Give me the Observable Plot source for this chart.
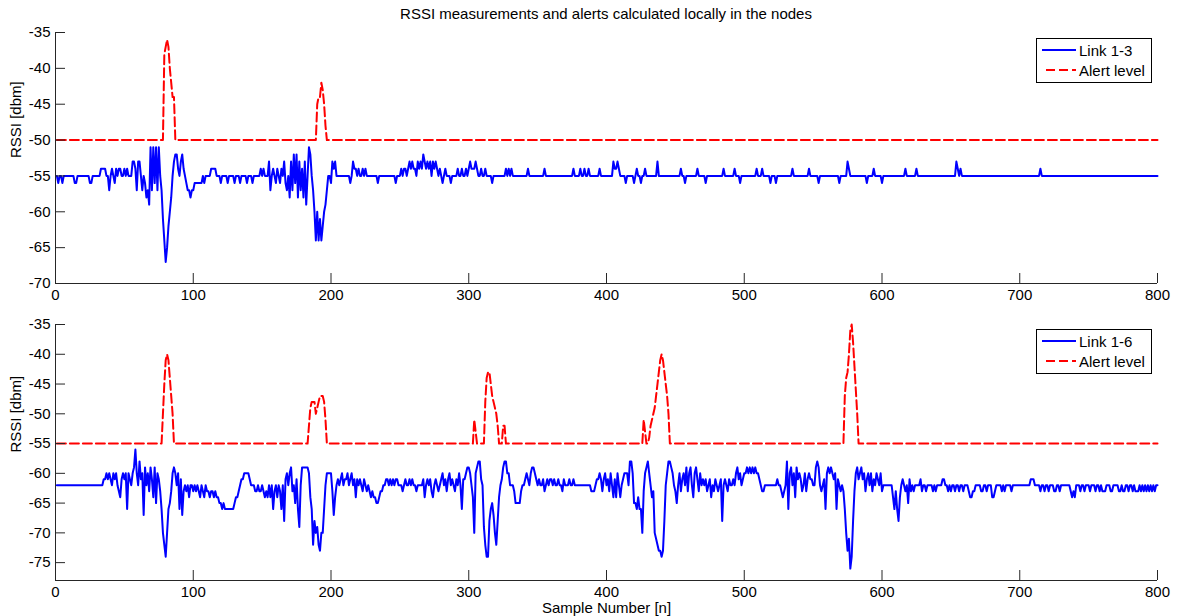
<!DOCTYPE html>
<html>
<head>
<meta charset="utf-8">
<script src="https://cdn.jsdelivr.net/npm/d3@7"></script>
<script src="https://cdn.jsdelivr.net/npm/@observablehq/plot@0.6"></script>
<style>
  body { margin: 0; background: #fff; }
  #fig { position: relative; width: 1179px; height: 616px; overflow: hidden; background: #fff;
         font-family: "Liberation Sans", Arial, sans-serif; color: #000; }
  .panel { position: absolute; left: 0; }
  #title { position: absolute; left: 55px; width: 1102px; top: 5px; text-align: center; font-size: 15px; line-height: 17px; }
  .legend { position: absolute; left: 1036px; width: 114px; height: 43px; border: 1px solid #000; background: #fff; font-size: 15px; }
  .legend .row { position: absolute; left: 5px; height: 18px; display: flex; align-items: center; white-space: nowrap; }
  .legend svg { margin-right: 3px; }
</style>
</head>
<body>
<div id="fig">
  <div id="title">RSSI measurements and alerts calculated locally in the nodes</div>
</div>
<script>
// ---- axis ticks ----
const sampleTicks = [0, 100, 200, 300, 400, 500, 600, 700, 800];
const rssiTicksTop = [-70, -65, -60, -55, -50, -45, -40, -35];
const rssiTicksBottom = [-75, -70, -65, -60, -55, -50, -45, -40, -35];

// ---- link 1-3: RSSI per sample (dBm), samples 1..800 ----
const link13Rssi = [
-55,-56,-55,-55,-56,-55,-55,-55,-55,-55,
-55,-55,-55,-56,-56,-55,-55,-55,-55,-55,
-55,-55,-55,-55,-56,-56,-55,-55,-55,-55,
-55,-55,-54,-54,-54,-54,-55,-55,-57,-55,
-54,-55,-56,-54,-55,-54,-54,-55,-55,-54,
-55,-54,-55,-55,-55,-53,-53,-54,-57,-53,
-53,-55,-57,-55,-56,-58,-57,-59,-51,-57,
-51,-56,-51,-57,-51,-55,-57,-61,-64,-67,
-65,-62,-60,-58,-55,-53,-52,-52,-54,-55,
-53,-52,-54,-55,-56,-57,-57,-58,-57,-57,
-56,-56,-56,-56,-56,-56,-55,-56,-55,-55,
-55,-55,-54,-54,-54,-54,-55,-55,-55,-56,
-55,-55,-55,-55,-56,-55,-55,-55,-55,-56,
-55,-55,-55,-56,-55,-55,-55,-55,-56,-55,
-55,-55,-56,-55,-55,-55,-55,-55,-54,-55,
-54,-55,-55,-55,-53,-57,-55,-54,-55,-56,
-54,-55,-56,-54,-55,-53,-56,-57,-55,-58,
-53,-57,-52,-56,-52,-58,-53,-57,-54,-58,
-53,-59,-55,-51,-52,-55,-57,-60,-64,-60,
-64,-61,-64,-62,-60,-59,-57,-55,-55,-56,
-53,-54,-53,-55,-55,-55,-55,-55,-55,-55,
-55,-55,-55,-56,-55,-53,-54,-54,-55,-54,
-55,-55,-54,-55,-54,-55,-55,-55,-55,-55,
-55,-55,-55,-56,-55,-55,-55,-55,-55,-55,
-55,-55,-55,-55,-55,-55,-56,-55,-55,-55,
-54,-55,-54,-54,-55,-54,-53,-54,-53,-54,
-54,-55,-53,-54,-53,-54,-52,-53,-54,-53,
-54,-53,-55,-53,-54,-53,-54,-55,-54,-55,
-56,-55,-54,-55,-55,-55,-56,-55,-55,-55,
-55,-54,-55,-55,-54,-55,-55,-54,-55,-54,
-53,-54,-54,-54,-53,-54,-55,-55,-54,-55,
-55,-54,-55,-55,-55,-55,-56,-55,-55,-55,
-55,-55,-55,-55,-55,-55,-54,-55,-54,-55,
-54,-55,-55,-55,-55,-55,-55,-55,-55,-55,
-55,-55,-54,-55,-55,-55,-55,-55,-55,-55,
-55,-55,-55,-55,-54,-55,-55,-55,-55,-55,
-55,-55,-55,-55,-55,-55,-55,-55,-55,-55,
-55,-55,-55,-55,-55,-54,-55,-55,-55,-55,
-54,-55,-55,-54,-55,-55,-54,-55,-55,-55,
-55,-55,-55,-55,-54,-55,-55,-55,-55,-55,
-55,-55,-55,-55,-53,-54,-54,-53,-54,-55,
-55,-55,-55,-56,-55,-55,-55,-55,-55,-56,
-55,-54,-55,-55,-56,-55,-55,-54,-55,-55,
-55,-55,-55,-55,-55,-55,-53,-55,-55,-55,
-55,-55,-55,-55,-55,-55,-55,-55,-55,-55,
-55,-55,-55,-54,-55,-55,-56,-55,-55,-55,
-55,-55,-55,-55,-55,-54,-55,-55,-55,-55,
-55,-56,-55,-55,-55,-55,-55,-55,-55,-55,
-55,-55,-55,-55,-54,-55,-55,-55,-55,-55,
-55,-55,-54,-55,-55,-55,-56,-55,-55,-55,
-55,-55,-55,-55,-55,-55,-55,-55,-54,-55,
-55,-55,-54,-55,-55,-55,-55,-55,-56,-55,
-55,-55,-56,-55,-55,-55,-55,-55,-55,-55,
-55,-55,-55,-55,-54,-55,-55,-55,-55,-55,
-55,-55,-55,-55,-55,-55,-54,-55,-55,-55,
-55,-55,-55,-56,-55,-55,-55,-55,-55,-55,
-55,-55,-55,-55,-55,-55,-55,-55,-56,-55,
-55,-55,-55,-55,-53,-54,-55,-55,-55,-55,
-55,-55,-55,-55,-55,-55,-55,-55,-56,-55,
-55,-55,-55,-54,-55,-55,-55,-55,-55,-56,
-55,-55,-55,-55,-55,-55,-55,-55,-55,-55,
-55,-55,-55,-55,-55,-55,-54,-55,-55,-55,
-55,-55,-55,-55,-54,-55,-55,-55,-55,-55,
-55,-55,-55,-55,-55,-55,-55,-55,-55,-55,
-55,-55,-55,-55,-55,-55,-55,-55,-55,-55,
-55,-55,-55,-53,-54,-55,-54,-55,-55,-55,
-55,-55,-55,-55,-55,-55,-55,-55,-55,-55,
-55,-55,-55,-55,-55,-55,-55,-55,-55,-55,
-55,-55,-55,-55,-55,-55,-55,-55,-55,-55,
-55,-55,-55,-55,-55,-55,-55,-55,-55,-55,
-55,-55,-55,-55,-55,-55,-55,-55,-55,-55,
-55,-55,-55,-55,-54,-55,-55,-55,-55,-55,
-55,-55,-55,-55,-55,-55,-55,-55,-55,-55,
-55,-55,-55,-55,-55,-55,-55,-55,-55,-55,
-55,-55,-55,-55,-55,-55,-55,-55,-55,-55,
-55,-55,-55,-55,-55,-55,-55,-55,-55,-55,
-55,-55,-55,-55,-55,-55,-55,-55,-55,-55,
-55,-55,-55,-55,-55,-55,-55,-55,-55,-55,
-55,-55,-55,-55,-55,-55,-55,-55,-55,-55,
-55,-55,-55,-55,-55,-55,-55,-55,-55,-55
];

// ---- link 1-6: RSSI per sample (dBm), samples 1..800 ----
const link16Rssi = [
-62,-62,-62,-62,-62,-62,-62,-62,-62,-62,
-62,-62,-62,-62,-62,-62,-62,-62,-62,-62,
-62,-62,-62,-62,-62,-62,-62,-62,-62,-62,
-62,-62,-62,-62,-61,-61,-60,-61,-60,-61,
-62,-60,-61,-60,-62,-63,-64,-61,-60,-61,
-60,-66,-60,-61,-62,-60,-59,-56,-60,-62,
-58,-61,-60,-67,-59,-62,-60,-63,-59,-61,
-64,-59,-65,-60,-61,-63,-66,-70,-72,-74,
-70,-66,-65,-63,-60,-59,-60,-62,-60,-66,
-61,-67,-63,-62,-63,-62,-64,-62,-62,-63,
-62,-63,-62,-63,-64,-62,-63,-64,-62,-63,
-63,-64,-63,-63,-64,-63,-64,-64,-65,-65,
-66,-65,-66,-66,-66,-66,-66,-66,-66,-65,
-64,-64,-63,-62,-61,-61,-60,-60,-60,-60,
-61,-62,-62,-62,-63,-63,-62,-63,-63,-62,
-63,-64,-63,-64,-62,-64,-62,-66,-63,-62,
-64,-62,-63,-66,-62,-68,-61,-60,-62,-60,
-59,-63,-62,-65,-61,-66,-69,-62,-59,-59,
-59,-59,-59,-60,-64,-66,-72,-68,-70,-69,
-72,-73,-70,-70,-66,-62,-60,-60,-60,-60,
-63,-67,-64,-62,-61,-62,-61,-60,-62,-61,
-61,-60,-62,-61,-60,-62,-61,-64,-61,-62,
-61,-62,-63,-61,-62,-63,-62,-63,-64,-63,
-64,-64,-65,-65,-64,-63,-63,-62,-62,-61,
-61,-62,-61,-62,-61,-62,-61,-61,-62,-62,
-62,-63,-62,-61,-62,-62,-61,-62,-61,-62,
-62,-63,-62,-62,-62,-62,-61,-64,-62,-61,
-62,-61,-63,-64,-62,-61,-62,-63,-62,-61,
-60,-62,-61,-63,-61,-60,-62,-61,-62,-63,
-61,-62,-60,-62,-66,-61,-61,-60,-59,-59,
-60,-62,-64,-70,-60,-59,-58,-58,-61,-62,
-69,-72,-74,-74,-68,-66,-65,-67,-70,-72,
-68,-64,-62,-61,-59,-58,-58,-60,-60,-62,
-62,-62,-63,-65,-65,-65,-65,-63,-62,-62,
-61,-60,-61,-62,-60,-59,-59,-60,-61,-62,
-61,-62,-62,-61,-63,-62,-61,-62,-61,-61,
-62,-61,-62,-62,-61,-62,-62,-63,-61,-62,
-62,-62,-61,-62,-62,-61,-62,-62,-62,-62,
-62,-62,-62,-62,-62,-62,-62,-62,-63,-63,
-63,-62,-61,-61,-60,-61,-63,-61,-60,-62,
-61,-63,-60,-62,-64,-61,-64,-60,-62,-64,
-62,-61,-60,-60,-60,-62,-58,-58,-60,-65,
-65,-66,-64,-66,-66,-70,-63,-60,-59,-58,
-60,-62,-64,-63,-70,-71,-72,-73,-73,-74,
-73,-68,-62,-60,-58,-58,-59,-60,-62,-63,
-65,-62,-60,-63,-61,-60,-62,-59,-63,-60,
-59,-62,-64,-60,-59,-61,-63,-60,-62,-61,
-62,-61,-63,-62,-61,-64,-62,-63,-61,-62,
-63,-62,-61,-68,-62,-61,-62,-63,-61,-62,
-62,-61,-62,-60,-59,-61,-60,-62,-61,-60,
-60,-59,-60,-59,-60,-59,-60,-59,-60,-60,
-61,-62,-63,-63,-62,-62,-62,-62,-62,-62,
-62,-62,-62,-61,-62,-62,-63,-64,-63,-62,
-58,-66,-60,-59,-62,-60,-64,-59,-61,-60,
-61,-63,-62,-60,-63,-61,-60,-61,-61,-62,
-62,-59,-58,-59,-62,-63,-62,-61,-66,-60,
-59,-60,-59,-60,-61,-60,-66,-61,-62,-63,
-62,-63,-66,-70,-73,-71,-76,-74,-68,-63,
-60,-59,-61,-60,-59,-61,-60,-63,-61,-60,
-62,-60,-63,-61,-62,-60,-61,-62,-60,-63,
-62,-62,-62,-62,-62,-62,-62,-64,-66,-63,
-66,-68,-64,-62,-61,-62,-63,-62,-65,-61,
-63,-62,-63,-62,-62,-62,-62,-61,-63,-62,
-62,-63,-62,-62,-62,-62,-63,-62,-63,-62,
-62,-62,-62,-61,-61,-62,-62,-63,-62,-63,
-62,-62,-63,-62,-62,-63,-62,-62,-63,-62,
-62,-62,-63,-64,-64,-63,-63,-62,-62,-62,
-62,-63,-63,-62,-62,-63,-62,-62,-62,-64,
-64,-63,-62,-62,-62,-62,-63,-62,-63,-62,
-62,-62,-62,-63,-62,-62,-62,-62,-62,-62,
-62,-62,-62,-62,-62,-62,-62,-61,-61,-61,
-62,-62,-62,-62,-63,-62,-62,-63,-62,-62,
-63,-62,-62,-62,-63,-63,-62,-62,-63,-62,
-62,-62,-62,-62,-62,-62,-63,-64,-63,-64,
-62,-62,-62,-63,-62,-62,-63,-62,-62,-62,
-63,-62,-62,-62,-63,-62,-62,-63,-62,-63,
-63,-63,-62,-62,-62,-63,-63,-62,-62,-62,
-62,-63,-63,-62,-63,-63,-62,-62,-63,-62,
-62,-63,-62,-63,-63,-63,-62,-63,-62,-63,
-62,-63,-62,-63,-62,-63,-62,-63,-62,-62
];

// ---- alert levels: resting threshold plus the samples where it was raised ----
const alertRest13 = -50;
const alertRaised13 = [
  [79,-38],[80,-37],[81,-36],[82,-37],[83,-40],[84,-42],[85,-44],[86,-44],
  [190,-45],[191,-44],[192,-44],[193,-42],[194,-43],[195,-45],[196,-48]
];
const alertRest16 = -55;
const alertRaised16 = [
  [78,-50],[79,-45],[80,-41],[81,-40],[82,-41],[83,-44],[84,-47],[85,-50],
  [184,-52],[185,-49],[186,-48],[187,-48],[188,-48],[189,-50],[190,-49],[191,-48],[192,-47],[193,-47],[194,-47],[195,-48],[196,-51],
  [304,-51],[305,-53],[312,-48],[313,-44],[314,-43],[315,-43],[316,-45],[317,-47],[318,-48],[319,-49],[320,-50],[321,-52],[325,-52],[326,-52],
  [427,-51],[428,-53],[431,-54],[432,-52],[433,-51],[434,-50],[435,-49],[436,-47],[437,-45],[438,-43],[439,-41],[440,-40],[441,-41],[442,-43],[443,-45],[444,-47],[445,-50],
  [573,-47],[574,-44],[575,-43],[576,-40],[577,-36],[578,-35],[579,-38],[580,-42],[581,-46],[582,-50]
];

// ---- build tables ----
const toRows = values => values.map((v, i) => ({n: i + 1, v}));
function alertRows(rest, raised, count) {
  const m = new Map(raised);
  return d3.range(1, count + 1).map(n => ({n, v: m.has(n) ? m.get(n) : rest}));
}

const W = 1179, ML = 55, MR = 22;
const FONT = '"Liberation Sans", Arial, sans-serif';
const AXIS = "#262626";
const DASH = "9,4";

function panel({rssi, alert, yDomain, yTicks, height, marginTop, marginBottom, xLabel}) {
  const plotH = height - marginTop - marginBottom;
  const plotW = W - ML - MR;
  const fmt = d => String(d);
  const marks = [
    Plot.line(toRows(rssi), {x: "n", y: "v", stroke: "#0000ff", strokeWidth: 2}),
    Plot.line(alert, {x: "n", y: "v", stroke: "#ff0000", strokeWidth: 2, strokeDasharray: DASH}),
    Plot.ruleX([sampleTicks[0]], {stroke: AXIS}),
    Plot.ruleY([yDomain[0]], {stroke: AXIS}),
    Plot.tickX(sampleTicks, {x: d => d, insetTop: plotH - 10, stroke: AXIS}),
    Plot.tickY(yTicks, {y: d => d, insetRight: plotW - 10, stroke: AXIS}),
    Plot.axisX({ticks: sampleTicks, tickSize: 0, tickPadding: 6, tickFormat: fmt, label: null, fill: "#000"}),
    Plot.axisY({ticks: yTicks, tickSize: 0, tickPadding: 5, tickFormat: fmt, label: null, fill: "#000"}),
    Plot.text(["RSSI [dbm]"], {text: d => d, frameAnchor: "left", rotate: -90, dx: -39, fontSize: 15, fill: "#000"})
  ];
  if (xLabel) marks.push(Plot.text([xLabel], {text: d => d, frameAnchor: "bottom", dy: 32.5, fontSize: 15, fill: "#000"}));
  return Plot.plot({
    width: W, height, marginLeft: ML, marginRight: MR, marginTop, marginBottom,
    x: {domain: [0, 800]},
    y: {domain: yDomain},
    style: {fontFamily: FONT, fontSize: "15px", background: "transparent", color: "#000", overflow: "visible"},
    marks
  });
}

function legend(topPx, label) {
  const div = document.createElement("div");
  div.className = "legend";
  div.style.top = topPx + "px";
  div.innerHTML =
    `<div class="row" style="top:2px"><svg width="34" height="4"><line x1="0" x2="34" y1="2" y2="2" stroke="#0000ff" stroke-width="2"/></svg><span>${label}</span></div>` +
    `<div class="row" style="top:22px"><svg width="34" height="4"><line x1="4" x2="34" y1="2" y2="2" stroke="#ff0000" stroke-width="2" stroke-dasharray="${DASH}"/></svg><span>Alert level</span></div>`;
  return div;
}

const fig = document.getElementById("fig");

const topPanel = panel({
  rssi: link13Rssi,
  alert: alertRows(alertRest13, alertRaised13, link13Rssi.length),
  yDomain: [-70, -35], yTicks: rssiTicksTop,
  height: 305, marginTop: 32, marginBottom: 22
});
topPanel.classList.add("panel");
topPanel.style.top = "0px";
fig.appendChild(topPanel);

const bottomPanel = panel({
  rssi: link16Rssi,
  alert: alertRows(alertRest16, alertRaised16, link16Rssi.length),
  yDomain: [-78, -35], yTicks: rssiTicksBottom,
  height: 311, marginTop: 19, marginBottom: 36,
  xLabel: "Sample Number [n]"
});
bottomPanel.classList.add("panel");
bottomPanel.style.top = "305px";
fig.appendChild(bottomPanel);

fig.appendChild(legend(38, "Link 1-3"));
fig.appendChild(legend(329, "Link 1-6"));
</script>
</body>
</html>
